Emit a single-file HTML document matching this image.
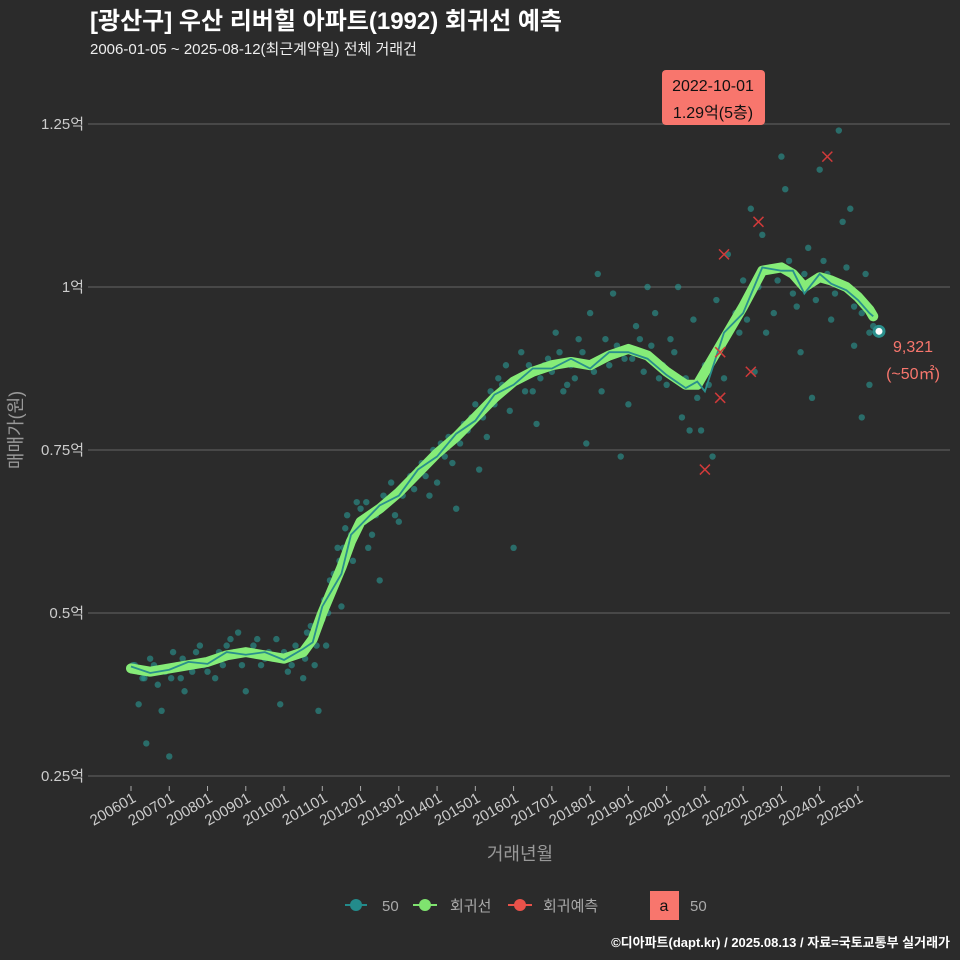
<!DOCTYPE html>
<html><head><meta charset="utf-8"><style>
body{margin:0;background:#2b2b2b;}
svg{display:block;font-family:"Liberation Sans","Noto Sans CJK KR",sans-serif;}
</style></head><body>
<svg id="c" width="960" height="960" viewBox="0 0 960 960">
<rect width="960" height="960" fill="#2b2b2b"/>
<text x="90" y="29" fill="#fff" font-size="24" font-weight="bold">[광산구] 우산 리버힐 아파트(1992) 회귀선 예측</text>
<text x="90" y="54" fill="#eee" font-size="15">2006-01-05 ~ 2025-08-12(최근계약일) 전체 거래건</text>
<g id="grid"></g>
<g id="pts"></g>
<g id="lines"></g>
<g id="preds"></g>
<g id="xt"></g>
<text x="520" y="860" fill="#999" font-size="18" text-anchor="middle">거래년월</text>
<text transform="translate(22,430) rotate(-90)" fill="#999" font-size="18" text-anchor="middle">매매가(원)</text>
<g>
<rect x="662" y="70" width="103" height="55" rx="4" fill="#f8766d"/>
<text x="713" y="91" font-size="16" text-anchor="middle" fill="#111">2022-10-01</text>
<text x="713" y="118" font-size="16" text-anchor="middle" fill="#111">1.29억(5층)</text>
</g>
<text x="913" y="352" fill="#f8766d" font-size="16" text-anchor="middle">9,321</text>
<text x="913" y="379" fill="#f8766d" font-size="16" text-anchor="middle">(~50㎡)</text>
<g>
<line x1="345" y1="905" x2="367" y2="905" stroke="#238b8b" stroke-width="2"/><circle cx="356" cy="905" r="6" fill="#238b8b"/>
<text x="382" y="911" fill="#aaa" font-size="15">50</text>
<line x1="413" y1="905" x2="437" y2="905" stroke="#7fe36f" stroke-width="2"/><circle cx="425" cy="905" r="6" fill="#7fe36f"/>
<text x="450" y="911" fill="#aaa" font-size="15">회귀선</text>
<line x1="508" y1="905" x2="532" y2="905" stroke="#e8524a" stroke-width="2"/><circle cx="520" cy="905" r="6" fill="#e8524a"/>
<text x="543" y="911" fill="#aaa" font-size="15">회귀예측</text>
<rect x="650" y="891" width="29" height="29" fill="#f8766d"/><text x="664" y="911" font-size="16" text-anchor="middle" fill="#111">a</text>
<text x="690" y="911" fill="#aaa" font-size="15">50</text>
</g>
<text x="950" y="947" fill="#fff" font-size="13" font-weight="bold" text-anchor="end">©디아파트(dapt.kr) / 2025.08.13 / 자료=국토교통부 실거래가</text>
</svg>
<script>
const yTicks=[0.25,0.5,0.75,1,1.25];
const yTickLabels=["0.25억","0.5억","0.75억","1억","1.25억"];
const xTickYears=[2006,2007,2008,2009,2010,2011,2012,2013,2014,2015,2016,2017,2018,2019,2020,2021,2022,2023,2024,2025];
const xTickLabels=["200601","200701","200801","200901","201001","201101","201201","201301","201401","201501","201601","201701","201801","201901","202001","202101","202201","202301","202401","202501"];
const lineT=[2006,2006.5,2007,2007.5,2008,2008.5,2009,2009.5,2010,2010.5,2010.75,2011,2011.5,2011.75,2012,2012.5,2013,2013.5,2014,2014.5,2015,2015.5,2016,2016.5,2017,2017.5,2018,2018.5,2019,2019.5,2020,2020.5,2020.8,2021,2021.5,2022,2022.5,2023,2023.3,2023.6,2024,2024.3,2024.7,2025,2025.3,2025.4];
const lineV=[0.415,0.41,0.415,0.42,0.425,0.435,0.44,0.435,0.43,0.44,0.46,0.5,0.57,0.61,0.64,0.66,0.685,0.715,0.745,0.77,0.8,0.83,0.855,0.87,0.88,0.885,0.88,0.895,0.905,0.895,0.87,0.85,0.85,0.87,0.92,0.97,1.025,1.03,1.02,1.0,1.015,1.01,1.0,0.985,0.965,0.955];
const maV=[0.418,0.408,0.413,0.425,0.422,0.44,0.436,0.44,0.428,0.445,0.455,0.51,0.56,0.62,0.635,0.665,0.68,0.72,0.74,0.775,0.795,0.835,0.85,0.875,0.875,0.89,0.875,0.9,0.9,0.89,0.865,0.845,0.855,0.84,0.93,0.96,1.03,1.025,1.025,0.99,1.02,1.005,0.995,0.98,0.96,0.955];
const ptT=[2006.1,2006.3,2006.5,2006.7,2006.9,2007.1,2007.3,2007.5,2007.8,2008.0,2008.3,2008.6,2008.9,2009.2,2009.5,2009.8,2010.1,2010.4,2010.6,2010.8,2011.0,2011.2,2011.4,2011.6,2011.8,2012.0,2012.3,2012.6,2012.9,2013.2,2013.5,2013.8,2014.1,2014.4,2014.7,2015.0,2015.3,2015.6,2015.9,2016.2,2016.5,2016.8,2017.1,2017.4,2017.7,2018.0,2018.3,2018.6,2018.9,2019.2,2019.5,2019.8,2020.1,2020.4,2020.7,2021.0,2021.3,2021.6,2021.9,2022.2,2022.5,2022.8,2023.1,2023.4,2023.7,2024.0,2024.3,2024.6,2024.9,2025.2,2025.4,2006.2,2006.8,2007.4,2008.2,2009.0,2009.9,2010.5,2011.1,2011.5,2012.2,2013.0,2014.0,2015.1,2015.8,2016.6,2017.3,2018.2,2019.0,2019.7,2020.3,2020.9,2021.5,2022.0,2022.6,2023.0,2023.5,2024.1,2024.8,2025.3,2006.4,2007.0,2010.9,2012.5,2014.5,2016.0,2017.9,2018.8,2020.6,2021.2,2022.3,2023.8,2024.5,2025.1,
2006.05,2006.2,2006.35,2006.6,2006.75,2007.05,2007.2,2007.35,2007.6,2007.7,2007.9,2008.1,2008.4,2008.5,2008.7,2008.8,2009.1,2009.3,2009.4,2009.6,2009.7,2010.0,2010.2,2010.3,2010.55,2010.7,2010.85,2011.05,2011.15,2011.3,2011.45,2011.55,2011.65,2011.75,2011.9,2012.1,2012.15,2012.4,2012.7,2012.8,2013.1,2013.3,2013.4,2013.6,2013.7,2013.9,2014.2,2014.3,2014.6,2014.8,2014.9,2015.2,2015.4,2015.5,2015.7,2016.1,2016.3,2016.4,2016.7,2016.9,2017.0,2017.2,2017.5,2017.6,2017.8,2018.1,2018.4,2018.5,2018.7,2019.1,2019.3,2019.4,2019.6,2019.9,2020.0,2020.2,2020.5,2020.8,2021.1,2021.3,2021.6,2021.8,2022.1,2022.4,2022.7,2022.9,2023.2,2023.3,2023.6,2023.9,2024.2,2024.4,2024.7,2024.9,2025.1,2025.3];
const ptV=[0.42,0.40,0.43,0.39,0.41,0.44,0.40,0.42,0.45,0.41,0.44,0.46,0.42,0.45,0.43,0.46,0.41,0.44,0.47,0.42,0.49,0.55,0.60,0.63,0.58,0.66,0.62,0.68,0.65,0.70,0.72,0.68,0.76,0.73,0.79,0.82,0.77,0.86,0.81,0.90,0.84,0.88,0.93,0.85,0.92,0.96,0.84,0.99,0.89,0.94,1.0,0.86,0.92,0.80,0.95,0.88,0.98,1.05,0.93,1.12,1.08,0.96,1.15,0.97,1.06,1.18,0.95,1.10,0.91,1.02,0.94,0.36,0.35,0.38,0.40,0.38,0.36,0.40,0.45,0.51,0.60,0.64,0.70,0.72,0.88,0.79,0.84,1.02,0.82,0.96,1.0,0.78,0.86,1.01,0.93,1.20,0.90,1.04,1.12,0.85,0.30,0.28,0.35,0.55,0.66,0.60,0.76,0.74,0.78,0.74,0.87,0.83,1.24,0.80,
0.42,0.41,0.40,0.42,0.41,0.40,0.42,0.43,0.41,0.44,0.42,0.43,0.42,0.45,0.44,0.47,0.44,0.46,0.42,0.44,0.43,0.44,0.42,0.45,0.43,0.48,0.45,0.52,0.50,0.56,0.58,0.60,0.65,0.62,0.67,0.64,0.67,0.65,0.67,0.70,0.68,0.71,0.69,0.73,0.71,0.75,0.74,0.77,0.76,0.78,0.80,0.80,0.84,0.82,0.85,0.86,0.84,0.88,0.86,0.89,0.87,0.90,0.88,0.86,0.90,0.87,0.92,0.88,0.91,0.89,0.92,0.87,0.91,0.88,0.85,0.90,0.86,0.83,0.85,0.90,0.93,0.96,0.95,1.0,1.03,1.01,1.04,0.99,1.02,0.98,1.02,0.99,1.03,0.97,0.96,0.93];
const predT=[2021.0,2021.4,2021.4,2021.5,2022.2,2022.4,2024.2];
const predV=[0.72,0.83,0.90,1.05,0.87,1.10,1.20];
const lastT=2025.55, lastV=0.932;
const X=t=>131+(t-2006)*38.26, Y=v=>776-(v-0.25)*652;
const NS="http://www.w3.org/2000/svg";
function mk(tag,attrs,parent){const e=document.createElementNS(NS,tag);for(const k in attrs)e.setAttribute(k,attrs[k]);parent.appendChild(e);return e;}
const grid=document.getElementById('grid');
yTicks.forEach((v,i)=>{
 const l=mk('line',{x1:88,x2:950,y1:Y(v),y2:Y(v),stroke:'#666','stroke-width':1},grid);
 
 
 const t=mk('text',{x:84,y:Y(v)+5,fill:'#ccc','font-size':15,'text-anchor':'end'},grid);
 t.textContent=yTickLabels[i];
 
 
});
const xt=document.getElementById('xt');
xTickYears.forEach((yr,i)=>{
 const x=X(yr);
 mk('line',{x1:x,x2:x,y1:786,y2:791,stroke:'#aaa'},xt);
 const t=mk('text',{transform:`translate(${x+6},${801}) rotate(-30)`,fill:'#ccc','font-size':15,'text-anchor':'end'},xt);
 t.textContent=xTickLabels[i];
 
 
});
const pts=document.getElementById('pts');
ptT.forEach((t,i)=>{
 const c=mk('circle',{cx:X(t),cy:Y(ptV[i]),r:3.2,fill:'#2a9a95','fill-opacity':0.6},pts);
 
 
});
const lines=document.getElementById('lines');
const d=lineT.map((t,i)=>(i?'L':'M')+X(t)+','+Y(lineV[i])).join(' ');
const g1=mk('path',{d:d,fill:'none',stroke:'#86ec78','stroke-width':10,'stroke-linejoin':'round','stroke-linecap':'round'},lines);


const d2=lineT.map((t,i)=>(i?'L':'M')+X(t)+','+Y(maV[i])).join(' ');
const g2=mk('path',{d:d2,fill:'none',stroke:'#2a8f8c','stroke-width':1.8},lines);


const preds=document.getElementById('preds');
predT.forEach((t,i)=>{
 const x=X(t),y=Y(predV[i]);
 const p=mk('path',{d:`M${x-5},${y-5}L${x+5},${y+5}M${x-5},${y+5}L${x+5},${y-5}`,stroke:'#d03a3a','stroke-width':1.5},preds);
 
 
});
const lp=mk('circle',{cx:X(lastT),cy:Y(lastV),r:5,fill:'#fff',stroke:'#2a8f8c','stroke-width':3},preds);


</script>
</body></html>
